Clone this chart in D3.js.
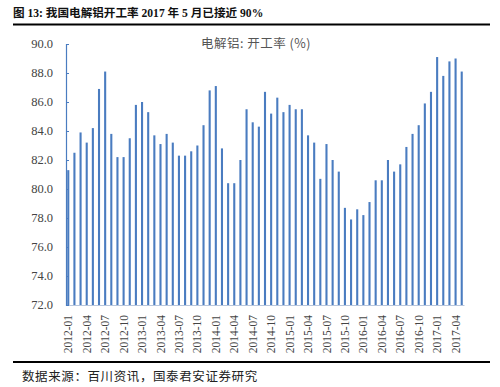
<!DOCTYPE html>
<html>
<head>
  <meta charset="utf-8">
  <script src="https://d3js.org/d3.v7.min.js"></script>
  <style>
    body { margin: 0; background: #fff; }
    svg { display: block; }
  </style>
</head>
<body>
  <div id="chart"></div>
  <script>
    // monthly operating rate of electrolytic aluminium, 2012-01 .. 2017-05
    const months = [];
    for (let y = 2012; y <= 2017; y++) {
      for (let m = 1; m <= 12; m++) {
        if (y === 2017 && m > 5) break;
        months.push(y + "-" + String(m).padStart(2, "0"));
      }
    }

    const rates = [
      81.3, 82.5, 83.9, 83.2, 84.2, 86.9, 88.1, 83.8, 82.2, 82.2, 83.5, 85.8,
      86.0, 85.3, 83.7, 83.1, 83.8, 83.2, 82.3, 82.3, 82.6, 83.0, 84.4, 86.8,
      87.1, 82.8, 80.4, 80.4, 82.0, 85.5, 84.6, 84.3, 86.7, 85.2, 86.3, 85.3,
      85.8, 85.5, 85.5, 83.7, 83.2, 80.7, 83.1, 82.0, 81.2, 78.7,
      77.9, 78.6, 78.2, 79.1, 80.6, 80.6, 82.0, 81.2, 81.7, 82.9, 83.8, 84.4,
      85.9, 86.7, 89.1, 87.8, 88.8, 89.0, 88.1
    ];

    const yTicks = [72, 74, 76, 78, 80, 82, 84, 86, 88, 90];
    const xLabels = months.filter((d, i) => i % 3 === 0);

    const title = "图 13: 我国电解铝开工率 2017 年 5 月已接近 90%";
    const seriesName = "电解铝: 开工率 (%)";
    const source = "数据来源：百川资讯，国泰君安证券研究";

    const W = 500, H = 387;
    const margin = { top: 44, right: 36, bottom: 82, left: 66 };
    const width = W - margin.left - margin.right;
    const height = H - margin.top - margin.bottom;
    const barColor = "#4a7cc0";
    const serif = "'Liberation Serif', 'Noto Sans CJK SC', serif";
    const cjk = "'Noto Sans CJK SC', 'Liberation Serif', sans-serif";

    const svg = d3.select("#chart").append("svg")
      .attr("width", W)
      .attr("height", H);

    // header + footer
    svg.append("text")
      .attr("x", 13)
      .attr("y", 17)
      .attr("font-family", serif)
      .attr("font-weight", "bold")
      .attr("font-size", 11.6)
      .attr("fill", "#111")
      .text(title);

    svg.append("line")
      .attr("x1", 13).attr("x2", 490)
      .attr("y1", 24.5).attr("y2", 24.5)
      .attr("stroke", "#000")
      .attr("stroke-width", 2);

    svg.append("line")
      .attr("x1", 13).attr("x2", 490)
      .attr("y1", 362).attr("y2", 362)
      .attr("stroke", "#000")
      .attr("stroke-width", 2);

    svg.append("text")
      .attr("x", 22)
      .attr("y", 381)
      .attr("font-family", cjk)
      .attr("font-size", 12.5)
      .attr("letter-spacing", 0.6)
      .attr("fill", "#222")
      .text(source);

    const g = svg.append("g")
      .attr("transform", `translate(${margin.left},${margin.top})`);

    const x = d3.scaleBand()
      .domain(months)
      .range([0, width])
      .paddingInner(0.66)
      .paddingOuter(0.2);

    const y = d3.scaleLinear()
      .domain([72, 90])
      .range([height, 0]);

    // bars
    g.selectAll(".bar")
      .data(rates)
      .enter().append("rect")
      .attr("class", "bar")
      .attr("x", (d, i) => x(months[i]))
      .attr("y", d => y(d))
      .attr("width", x.bandwidth())
      .attr("height", d => height - y(d))
      .attr("fill", barColor);

    // x axis
    const xAxis = g.append("g")
      .attr("transform", `translate(0,${height})`)
      .call(d3.axisBottom(x).tickValues(xLabels).tickSize(0).tickPadding(0));
    xAxis.select(".domain").attr("stroke", "#b8c6dc");
    xAxis.selectAll("text")
      .attr("font-family", serif)
      .attr("font-size", 11.5)
      .attr("fill", "#444")
      .attr("transform", "rotate(-90)")
      .attr("text-anchor", "end")
      .attr("dx", "-10")
      .attr("dy", "0.35em")
      .attr("y", 0)
      .attr("x", 0);

    // y axis, ticks pointing inward
    const yAxis = g.append("g")
      .call(d3.axisRight(y).tickValues(yTicks).tickSize(3).tickFormat(() => ""));
    yAxis.select(".domain").attr("stroke", barColor).attr("stroke-width", 1.2);
    yAxis.selectAll(".tick line").attr("stroke", barColor);

    g.selectAll(".ylab")
      .data(yTicks)
      .enter().append("text")
      .attr("class", "ylab")
      .attr("x", -13)
      .attr("y", d => y(d))
      .attr("dy", "0.35em")
      .attr("text-anchor", "end")
      .attr("font-family", serif)
      .attr("font-size", 12.5)
      .attr("fill", "#444")
      .text(d => d.toFixed(1));

    // series label
    svg.append("text")
      .attr("x", 256)
      .attr("y", 48)
      .attr("text-anchor", "middle")
      .attr("font-family", cjk)
      .attr("font-size", 12.5)
      .attr("letter-spacing", 0.5)
      .attr("fill", "#555")
      .text(seriesName);
  </script>
</body>
</html>
